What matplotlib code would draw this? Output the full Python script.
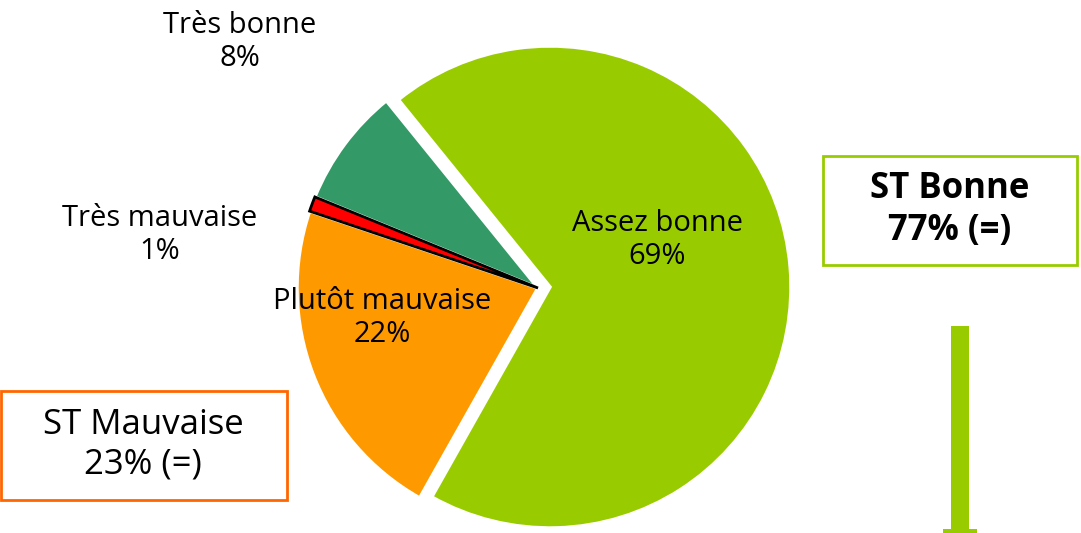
import matplotlib
matplotlib.use("Agg")
import matplotlib.pyplot as plt
from matplotlib.patches import Rectangle

categories = ["Assez bonne", "Plutôt mauvaise", "Très mauvaise", "Très bonne"]
values = [69, 22, 1, 8]
colors = ["#99CC00", "#FF9900", "#FF0000", "#339966"]
edge_colors = ["white", "white", "black", "white"]
explode_frac = [0.05, 0, 0, 0]

summary_labels = ["ST Bonne", "ST Mauvaise"]
summary_values = [77, 23]
summary_trend = ["(=)", "(=)"]

W, H = 1081, 533
plt.rcParams['font.family'] = ['Open Sans', 'DejaVu Sans']
fig = plt.figure(figsize=(W / 100, H / 100), dpi=100)
ax = fig.add_axes([0, 0, 1, 1])

def Y(y):
    return H - y

R = 241
wedges, _ = ax.pie(values, colors=colors, startangle=129, counterclock=False,
                   explode=[e * R for e in explode_frac], center=(538, Y(288)), radius=R,
                   frame=True,
                   wedgeprops=dict(linewidth=2.5))
for w, ec in zip(wedges, edge_colors):
    w.set_edgecolor(ec)
    if ec == "black":
        w.set_linewidth(2.0)
        w.set_zorder(3)
ax.set_xlim(0, W)
ax.set_ylim(0, H)
ax.set_aspect('equal')
ax.axis('off')

label_pos = {"Assez bonne": (657, 240), "Plutôt mauvaise": (382, 318),
             "Très mauvaise": (160, 235), "Très bonne": (240, 42)}
for cat, v in zip(categories, values):
    x, y = label_pos[cat]
    ax.text(x, Y(y), f"{cat}\n{v}%", ha='center', va='center', fontsize=21,
            linespacing=1.2, color='black', zorder=5)

# summary boxes
ax.add_patch(Rectangle((823, Y(265)), 1077 - 823, 265 - 156, fill=False,
                       edgecolor="#99CC00", linewidth=2))
ax.text(950, Y(210), f"{summary_labels[0]}\n{summary_values[0]}% {summary_trend[0]}",
        ha='center', va='center', fontsize=25, fontweight='bold', linespacing=1.2)

ax.add_patch(Rectangle((1, Y(500)), 287 - 1, 500 - 391, fill=False,
                       edgecolor="#FF6600", linewidth=2))
ax.text(143, Y(445), f"{summary_labels[1]}\n{summary_values[1]}% {summary_trend[1]}",
        ha='center', va='center', fontsize=25, linespacing=1.2)

# arrow shaft
ax.add_patch(Rectangle((951, Y(530)), 18, 530 - 326, facecolor="#99CC00", edgecolor='none'))
ax.add_patch(Rectangle((943, Y(533)), 34, 4, facecolor="#99CC00", edgecolor='none'))

fig.savefig("out.png", dpi=100)
